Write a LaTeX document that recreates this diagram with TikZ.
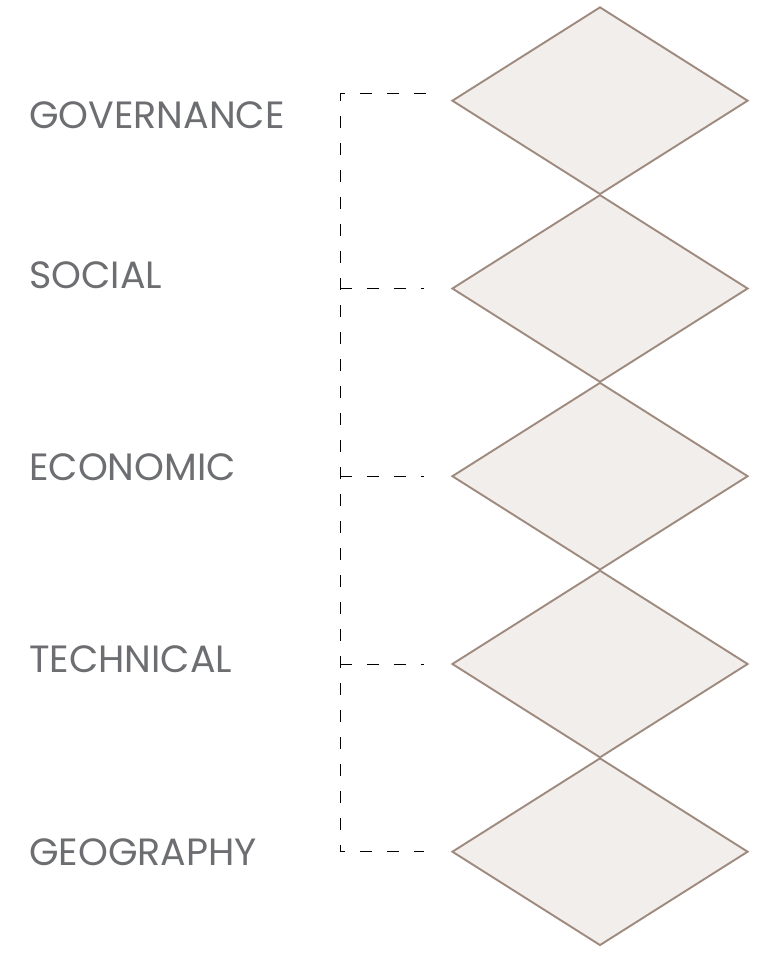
\documentclass[tikz,border=0pt]{standalone}
\usepackage{fontspec}
\setmainfont{Poppins}
\usetikzlibrary{shapes.geometric}
\definecolor{txtgray}{HTML}{6D6E71}
\definecolor{dstroke}{HTML}{9E8A7E}
\definecolor{dfill}{HTML}{F1EEEB}
\tikzset{
  diam/.style={diamond, draw=dstroke, fill=dfill, line width=1.9pt, inner sep=0pt,
    minimum width=296pt, minimum height=187.5pt, shape aspect=1.58},
  lbl/.style={anchor=base west, text=txtgray, inner sep=0pt, font=\fontsize{38}{42}\selectfont},
  brk/.style={draw=black, line width=1pt, dash pattern=on 12pt off 15pt}
}
\begin{document}
\begin{tikzpicture}[x=1pt,y=-1pt]
\useasboundingbox (0,0) rectangle (761,957);
\foreach \i/\y in {1/100.7,2/288.5,3/476.2,4/664,5/851.7}{
  \node[diam] (d\i) at (600,\y) {};
}
\node[lbl] (t1) at (29,128.3) {GOVERNANCE};
\node[lbl] (t2) at (29,288.3) {SOCIAL};
\node[lbl] (t3) at (29,480.7) {ECONOMIC};
\node[lbl] (t4) at (29,672.7) {TECHNICAL};
\node[lbl] (t5) at (29,865) {GEOGRAPHY};
\coordinate (e1) at (426,94);
\coordinate (s1) at (340,94);
\foreach \i in {2,...,5}{
  \coordinate (e\i) at ([xshift=-27pt]d\i.west);
  \coordinate (s\i) at (340,0 |- d\i.west);
}
\draw[brk] (e1) -- (s1) -- (s5) -- (e5);
\foreach \i in {2,3,4}{
  \draw[brk] (s\i) -- (e\i);
}
\end{tikzpicture}
\end{document}
